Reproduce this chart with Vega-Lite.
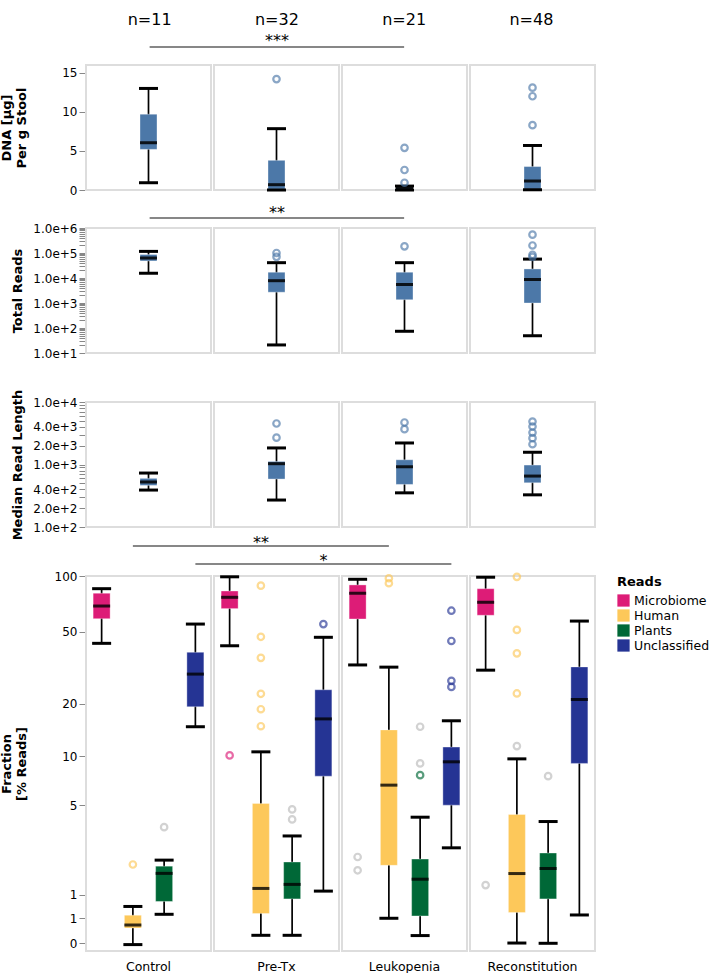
{
  "$schema": "https://vega.github.io/schema/vega-lite/v6.json",
  "padding": {"left": 0, "top": 8, "right": 0, "bottom": 0},
  "bounds": "flush",
  "spacing": 0,
  "config": {
    "font": "DejaVu Sans",
    "view": {"stroke": null},
    "axis": {"domainColor": "#888", "tickColor": "#888", "labelColor": "black", "labelFontSize": 12, "titleFontSize": 13, "titleFontWeight": "bold", "titleColor": "black", "grid": false},
    "legend": {"titleFontSize": 13, "labelFontSize": 12.5, "titleColor": "black", "labelColor": "black"}
  },
  "resolve": {"scale": {"color": "independent"}, "legend": {"color": "independent"}},
  "datasets": {
    "groups": [
      {"group": "Control", "label": "n=11"},
      {"group": "Pre-Tx", "label": "n=32"},
      {"group": "Leukopenia", "label": "n=21"},
      {"group": "Reconstitution", "label": "n=48"}
    ],
    "bracket_top": [
      {"id": "a", "group": "Control", "level": 1},
      {"id": "a", "group": "Leukopenia", "level": 1}
    ],
    "stars1": [{"group": "Pre-Tx", "level": 1, "label": "***"}],
    "stars2": [{"group": "Pre-Tx", "level": 1, "label": "**"}],
    "bracket_bottom": [
      {"id": "c", "group": "Control", "reads": "Human", "level": 2},
      {"id": "c", "group": "Leukopenia", "reads": "Human", "level": 2},
      {"id": "d", "group": "Control", "reads": "Unclassified", "level": 1},
      {"id": "d", "group": "Leukopenia", "reads": "Unclassified", "level": 1}
    ],
    "stars_bottom": [
      {"group": "Pre-Tx", "reads": "Human", "level": 2, "label": "**"},
      {"group": "Pre-Tx", "reads": "Unclassified", "level": 1, "label": "*"}
    ],
    "dna": [
      {"group": "Control", "lower": 0.93, "q1": 5.2, "median": 6.05, "q3": 9.7, "upper": 13.0},
      {"group": "Pre-Tx", "lower": 0.0, "q1": 0.1, "median": 0.68, "q3": 3.8, "upper": 7.85},
      {"group": "Leukopenia", "lower": 0.0, "q1": 0.05, "median": 0.2, "q3": 0.35, "upper": 0.5},
      {"group": "Reconstitution", "lower": 0.03, "q1": 0.1, "median": 1.15, "q3": 3.0, "upper": 5.7}
    ],
    "dna_out": [
      {"group": "Pre-Tx", "value": 14.2},
      {"group": "Leukopenia", "value": 5.4},
      {"group": "Leukopenia", "value": 2.56},
      {"group": "Leukopenia", "value": 0.93},
      {"group": "Reconstitution", "value": 13.1},
      {"group": "Reconstitution", "value": 12.0},
      {"group": "Reconstitution", "value": 8.3}
    ],
    "reads": [
      {"group": "Control", "lower": 15500, "q1": 48000, "median": 63000, "q3": 87000, "upper": 116000},
      {"group": "Pre-Tx", "lower": 21, "q1": 2700, "median": 7800, "q3": 17000, "upper": 41000},
      {"group": "Leukopenia", "lower": 74, "q1": 1350, "median": 5500, "q3": 17000, "upper": 41000},
      {"group": "Reconstitution", "lower": 49, "q1": 1000, "median": 8700, "q3": 23000, "upper": 57000}
    ],
    "reads_out": [
      {"group": "Pre-Tx", "value": 100000},
      {"group": "Pre-Tx", "value": 70000},
      {"group": "Leukopenia", "value": 185000},
      {"group": "Reconstitution", "value": 540000},
      {"group": "Reconstitution", "value": 200000},
      {"group": "Reconstitution", "value": 85000},
      {"group": "Reconstitution", "value": 70000}
    ],
    "readlen": [
      {"group": "Control", "lower": 390, "q1": 463, "median": 525, "q3": 600, "upper": 730},
      {"group": "Pre-Tx", "lower": 270, "q1": 585, "median": 1030, "q3": 1120, "upper": 1840},
      {"group": "Leukopenia", "lower": 352, "q1": 480, "median": 920, "q3": 1190, "upper": 2210},
      {"group": "Reconstitution", "lower": 327, "q1": 510, "median": 653, "q3": 980, "upper": 1570}
    ],
    "readlen_out": [
      {"group": "Pre-Tx", "value": 4530},
      {"group": "Pre-Tx", "value": 2690},
      {"group": "Leukopenia", "value": 4700},
      {"group": "Leukopenia", "value": 3680},
      {"group": "Reconstitution", "value": 4870},
      {"group": "Reconstitution", "value": 4050},
      {"group": "Reconstitution", "value": 3240},
      {"group": "Reconstitution", "value": 2640},
      {"group": "Reconstitution", "value": 2110}
    ],
    "fraction": [
      {"group": "Control", "reads": "Microbiome", "lower": 43.1, "q1": 58.7, "median": 68.8, "q3": 80.7, "upper": 85.4},
      {"group": "Control", "reads": "Human", "lower": 0.082, "q1": 0.327, "median": 0.377, "q3": 0.553, "upper": 0.73},
      {"group": "Control", "reads": "Plants", "lower": 0.571, "q1": 0.84, "median": 1.6, "q3": 1.84, "upper": 2.06},
      {"group": "Control", "reads": "Unclassified", "lower": 14.8, "q1": 19.2, "median": 29.2, "q3": 38.5, "upper": 54.9},
      {"group": "Pre-Tx", "reads": "Microbiome", "lower": 41.8, "q1": 66.6, "median": 76.7, "q3": 83.0, "upper": 99.0},
      {"group": "Pre-Tx", "reads": "Human", "lower": 0.213, "q1": 0.585, "median": 1.16, "q3": 5.15, "upper": 10.6},
      {"group": "Pre-Tx", "reads": "Plants", "lower": 0.213, "q1": 0.898, "median": 1.27, "q3": 1.99, "upper": 3.12},
      {"group": "Pre-Tx", "reads": "Unclassified", "lower": 1.09, "q1": 7.6, "median": 16.4, "q3": 23.9, "upper": 46.5},
      {"group": "Leukopenia", "reads": "Microbiome", "lower": 32.8, "q1": 58.5, "median": 80.7, "q3": 89.5, "upper": 96.0},
      {"group": "Leukopenia", "reads": "Human", "lower": 0.496, "q1": 1.87, "median": 6.7, "q3": 14.2, "upper": 31.9},
      {"group": "Leukopenia", "reads": "Plants", "lower": 0.209, "q1": 0.539, "median": 1.42, "q3": 2.1, "upper": 4.19},
      {"group": "Leukopenia", "reads": "Unclassified", "lower": 2.56, "q1": 5.02, "median": 9.26, "q3": 11.3, "upper": 16.0},
      {"group": "Reconstitution", "reads": "Microbiome", "lower": 30.7, "q1": 61.3, "median": 72.1, "q3": 85.4, "upper": 98.5},
      {"group": "Reconstitution", "reads": "Human", "lower": 0.103, "q1": 0.605, "median": 1.594, "q3": 4.37, "upper": 9.64},
      {"group": "Reconstitution", "reads": "Plants", "lower": 0.0995, "q1": 0.898, "median": 1.76, "q3": 2.34, "upper": 3.92},
      {"group": "Reconstitution", "reads": "Unclassified", "lower": 0.558, "q1": 9.06, "median": 21.1, "q3": 32.0, "upper": 57.0}
    ],
    "fraction_out": [
      {"group": "Control", "reads": "Human", "value": 1.9, "subset": "A"},
      {"group": "Control", "reads": "Plants", "value": 3.59, "subset": "B"},
      {"group": "Pre-Tx", "reads": "Microbiome", "value": 10.1, "subset": "A"},
      {"group": "Pre-Tx", "reads": "Human", "value": 88.7, "subset": "A"},
      {"group": "Pre-Tx", "reads": "Human", "value": 46.8, "subset": "A"},
      {"group": "Pre-Tx", "reads": "Human", "value": 35.9, "subset": "A"},
      {"group": "Pre-Tx", "reads": "Human", "value": 22.7, "subset": "A"},
      {"group": "Pre-Tx", "reads": "Human", "value": 18.6, "subset": "A"},
      {"group": "Pre-Tx", "reads": "Human", "value": 14.9, "subset": "A"},
      {"group": "Pre-Tx", "reads": "Plants", "value": 4.71, "subset": "B"},
      {"group": "Pre-Tx", "reads": "Plants", "value": 4.05, "subset": "B"},
      {"group": "Pre-Tx", "reads": "Unclassified", "value": 54.9, "subset": "A"},
      {"group": "Leukopenia", "reads": "Microbiome", "value": 2.18, "subset": "B"},
      {"group": "Leukopenia", "reads": "Microbiome", "value": 1.7, "subset": "B"},
      {"group": "Leukopenia", "reads": "Human", "value": 97.2, "subset": "A"},
      {"group": "Leukopenia", "reads": "Human", "value": 91.4, "subset": "A"},
      {"group": "Leukopenia", "reads": "Plants", "value": 14.8, "subset": "B"},
      {"group": "Leukopenia", "reads": "Plants", "value": 9.06, "subset": "B"},
      {"group": "Leukopenia", "reads": "Plants", "value": 7.71, "subset": "A"},
      {"group": "Leukopenia", "reads": "Unclassified", "value": 64.9, "subset": "A"},
      {"group": "Leukopenia", "reads": "Unclassified", "value": 44.4, "subset": "A"},
      {"group": "Leukopenia", "reads": "Unclassified", "value": 26.8, "subset": "A"},
      {"group": "Leukopenia", "reads": "Unclassified", "value": 24.8, "subset": "A"},
      {"group": "Reconstitution", "reads": "Microbiome", "value": 1.25, "subset": "B"},
      {"group": "Reconstitution", "reads": "Human", "value": 99.0, "subset": "A"},
      {"group": "Reconstitution", "reads": "Human", "value": 51.0, "subset": "A"},
      {"group": "Reconstitution", "reads": "Human", "value": 38.0, "subset": "A"},
      {"group": "Reconstitution", "reads": "Human", "value": 22.8, "subset": "A"},
      {"group": "Reconstitution", "reads": "Human", "value": 11.45, "subset": "B"},
      {"group": "Reconstitution", "reads": "Plants", "value": 7.6, "subset": "B"}
    ]
  },
  "vconcat": [
    {
      "width": 509, "height": 24,
      "data": {"name": "groups"},
      "mark": {"type": "text", "fontSize": 16, "color": "black"},
      "encoding": {
        "x": {"field": "group", "type": "nominal", "scale": {"domain": ["Control", "Pre-Tx", "Leukopenia", "Reconstitution"], "paddingInner": 0.0234375, "paddingOuter": 0}, "axis": null},
        "text": {"field": "label"}
      }
    },
    {
      "width": 509, "height": 33,
      "encoding": {
        "x": {"field": "group", "type": "nominal", "scale": {"domain": ["Control", "Pre-Tx", "Leukopenia", "Reconstitution"], "paddingInner": 0.0234375, "paddingOuter": 0}, "axis": null},
        "y": {"field": "level", "type": "ordinal", "scale": {"type": "point", "padding": 0, "align": 0.4545}, "axis": null}
      },
      "layer": [
        {"data": {"name": "bracket_top"}, "mark": {"type": "line", "color": "#111", "strokeWidth": 1.1}, "encoding": {"detail": {"field": "id"}}},
        {"data": {"name": "stars1"}, "mark": {"type": "text", "fontSize": 16, "baseline": "alphabetic", "dy": -1, "color": "black"}, "encoding": {"text": {"field": "label"}}}
      ]
    },
    {
      "width": 509, "height": 125,
      "encoding": {
        "x": {"field": "group", "type": "nominal", "scale": {"domain": ["Control", "Pre-Tx", "Leukopenia", "Reconstitution"], "paddingInner": 0.0234375, "paddingOuter": 0}, "axis": null}
      },
      "layer": [
        {"data": {"name": "groups"}, "mark": {"type": "rect", "fill": "white", "stroke": "#ddd", "strokeWidth": 2}},
        {"data": {"name": "dna"}, "mark": {"type": "rule", "color": "black", "strokeWidth": 1.7},
         "encoding": {"y": {"field": "lower", "type": "quantitative", "scale": {"domain": [0, 16], "nice": false, "zero": false},
           "axis": {"title": ["DNA [µg]", "Per g Stool"], "values": [0, 5, 10, 15], "tickSize": 7, "labelPadding": 2, "titleX": -73, "titleAngle": 270, "titleBaseline": "bottom", "titleAlign": "center"}},
          "y2": {"field": "upper"}}},
        {"data": {"name": "dna"}, "mark": {"type": "bar", "size": 17, "color": "#4c78a8", "opacity": 1, "stroke": "white", "strokeOpacity": 0.35, "strokeWidth": 1},
         "encoding": {"y": {"field": "q1", "type": "quantitative", "scale": {"domain": [0, 16], "nice": false, "zero": false}}, "y2": {"field": "q3"}}},
        {"data": {"name": "dna"}, "mark": {"type": "tick", "color": "black", "size": 17, "thickness": 3, "opacity": 0.85},
         "encoding": {"y": {"field": "median", "type": "quantitative", "scale": {"domain": [0, 16], "nice": false, "zero": false}}}},
        {"data": {"name": "dna"}, "mark": {"type": "tick", "color": "black", "size": 19, "thickness": 3, "opacity": 1},
         "encoding": {"y": {"field": "lower", "type": "quantitative", "scale": {"domain": [0, 16], "nice": false, "zero": false}}}},
        {"data": {"name": "dna"}, "mark": {"type": "tick", "color": "black", "size": 19, "thickness": 3, "opacity": 1},
         "encoding": {"y": {"field": "upper", "type": "quantitative", "scale": {"domain": [0, 16], "nice": false, "zero": false}}}},
        {"data": {"name": "dna_out"}, "mark": {"type": "point", "shape": "circle", "filled": false, "strokeWidth": 2.2, "size": 42, "opacity": 0.65, "color": "#4c78a8"},
         "encoding": {"y": {"field": "value", "type": "quantitative", "scale": {"domain": [0, 16], "nice": false, "zero": false}}}}
      ]
    },
    {
      "width": 509, "height": 38,
      "encoding": {
        "x": {"field": "group", "type": "nominal", "scale": {"domain": ["Control", "Pre-Tx", "Leukopenia", "Reconstitution"], "paddingInner": 0.0234375, "paddingOuter": 0}, "axis": null},
        "y": {"field": "level", "type": "ordinal", "scale": {"type": "point", "padding": 0, "align": 0.737}, "axis": null}
      },
      "layer": [
        {"data": {"name": "bracket_top"}, "mark": {"type": "line", "color": "#111", "strokeWidth": 1.1}, "encoding": {"detail": {"field": "id"}}},
        {"data": {"name": "stars2"}, "mark": {"type": "text", "fontSize": 16, "baseline": "alphabetic", "dy": 0, "color": "black"}, "encoding": {"text": {"field": "label"}}}
      ]
    },
    {
      "width": 509, "height": 125,
      "encoding": {
        "x": {"field": "group", "type": "nominal", "scale": {"domain": ["Control", "Pre-Tx", "Leukopenia", "Reconstitution"], "paddingInner": 0.0234375, "paddingOuter": 0}, "axis": null}
      },
      "layer": [
        {"data": {"name": "groups"}, "mark": {"type": "rect", "fill": "white", "stroke": "#ddd", "strokeWidth": 2}},
        {"data": {"name": "reads"}, "mark": {"type": "rule", "color": "black", "strokeWidth": 1.7},
         "encoding": {"y": {"field": "lower", "type": "quantitative", "scale": {"type": "log", "domain": [10, 1000000], "nice": false},
           "axis": {"title": "Total Reads", "values": [10, 20, 30, 40, 50, 60, 70, 80, 90, 100, 200, 300, 400, 500, 600, 700, 800, 900, 1000, 2000, 3000, 4000, 5000, 6000, 7000, 8000, 9000, 10000, 20000, 30000, 40000, 50000, 60000, 70000, 80000, 90000, 100000, 200000, 300000, 400000, 500000, 600000, 700000, 800000, 900000, 1000000],
             "format": ".1e", "labelExpr": "slice(datum.label, 0, 3) == '1.0' ? datum.label : ''", "labelOverlap": false, "labelBound": false, "tickSize": 7, "labelPadding": 2, "titleX": -62, "titleAngle": 270, "titleBaseline": "bottom", "titleAlign": "center"}},
          "y2": {"field": "upper"}}},
        {"data": {"name": "reads"}, "mark": {"type": "bar", "size": 17, "color": "#4c78a8", "opacity": 1, "stroke": "white", "strokeOpacity": 0.35, "strokeWidth": 1},
         "encoding": {"y": {"field": "q1", "type": "quantitative", "scale": {"type": "log", "domain": [10, 1000000], "nice": false}}, "y2": {"field": "q3"}}},
        {"data": {"name": "reads"}, "mark": {"type": "tick", "color": "black", "size": 17, "thickness": 3, "opacity": 0.85},
         "encoding": {"y": {"field": "median", "type": "quantitative", "scale": {"type": "log", "domain": [10, 1000000], "nice": false}}}},
        {"data": {"name": "reads"}, "mark": {"type": "tick", "color": "black", "size": 19, "thickness": 3, "opacity": 1},
         "encoding": {"y": {"field": "lower", "type": "quantitative", "scale": {"type": "log", "domain": [10, 1000000], "nice": false}}}},
        {"data": {"name": "reads"}, "mark": {"type": "tick", "color": "black", "size": 19, "thickness": 3, "opacity": 1},
         "encoding": {"y": {"field": "upper", "type": "quantitative", "scale": {"type": "log", "domain": [10, 1000000], "nice": false}}}},
        {"data": {"name": "reads_out"}, "mark": {"type": "point", "shape": "circle", "filled": false, "strokeWidth": 2.2, "size": 42, "opacity": 0.65, "color": "#4c78a8"},
         "encoding": {"y": {"field": "value", "type": "quantitative", "scale": {"type": "log", "domain": [10, 1000000], "nice": false}}}}
      ]
    },
    {
      "width": 509, "height": 49,
      "data": {"values": []},
      "mark": "point",
      "encoding": {}
    },
    {
      "width": 509, "height": 125,
      "encoding": {
        "x": {"field": "group", "type": "nominal", "scale": {"domain": ["Control", "Pre-Tx", "Leukopenia", "Reconstitution"], "paddingInner": 0.0234375, "paddingOuter": 0}, "axis": null}
      },
      "layer": [
        {"data": {"name": "groups"}, "mark": {"type": "rect", "fill": "white", "stroke": "#ddd", "strokeWidth": 2}},
        {"data": {"name": "readlen"}, "mark": {"type": "rule", "color": "black", "strokeWidth": 1.7},
         "encoding": {"y": {"field": "lower", "type": "quantitative", "scale": {"type": "log", "domain": [100, 10000], "nice": false},
           "axis": {"title": "Median Read Length", "values": [100, 200, 300, 400, 500, 600, 700, 800, 900, 1000, 2000, 3000, 4000, 5000, 6000, 7000, 8000, 9000, 10000],
             "format": ".1e", "labelExpr": "indexof(['1.0', '2.0', '4.0'], slice(datum.label, 0, 3)) >= 0 ? datum.label : ''", "labelOverlap": false, "labelBound": false, "tickSize": 7, "labelPadding": 2, "titleX": -62, "titleAngle": 270, "titleBaseline": "bottom", "titleAlign": "center"}},
          "y2": {"field": "upper"}}},
        {"data": {"name": "readlen"}, "mark": {"type": "bar", "size": 17, "color": "#4c78a8", "opacity": 1, "stroke": "white", "strokeOpacity": 0.35, "strokeWidth": 1},
         "encoding": {"y": {"field": "q1", "type": "quantitative", "scale": {"type": "log", "domain": [100, 10000], "nice": false}}, "y2": {"field": "q3"}}},
        {"data": {"name": "readlen"}, "mark": {"type": "tick", "color": "black", "size": 17, "thickness": 3, "opacity": 0.85},
         "encoding": {"y": {"field": "median", "type": "quantitative", "scale": {"type": "log", "domain": [100, 10000], "nice": false}}}},
        {"data": {"name": "readlen"}, "mark": {"type": "tick", "color": "black", "size": 19, "thickness": 3, "opacity": 1},
         "encoding": {"y": {"field": "lower", "type": "quantitative", "scale": {"type": "log", "domain": [100, 10000], "nice": false}}}},
        {"data": {"name": "readlen"}, "mark": {"type": "tick", "color": "black", "size": 19, "thickness": 3, "opacity": 1},
         "encoding": {"y": {"field": "upper", "type": "quantitative", "scale": {"type": "log", "domain": [100, 10000], "nice": false}}}},
        {"data": {"name": "readlen_out"}, "mark": {"type": "point", "shape": "circle", "filled": false, "strokeWidth": 2.2, "size": 42, "opacity": 0.65, "color": "#4c78a8"},
         "encoding": {"y": {"field": "value", "type": "quantitative", "scale": {"type": "log", "domain": [100, 10000], "nice": false}}}}
      ]
    },
    {
      "width": 509, "height": 49,
      "encoding": {
        "x": {"field": "group", "type": "nominal", "scale": {"domain": ["Control", "Pre-Tx", "Leukopenia", "Reconstitution"], "paddingInner": 0.0234375, "paddingOuter": 0}, "axis": null},
        "xOffset": {"field": "reads", "type": "nominal", "scale": {"domain": ["Microbiome", "Human", "Plants", "Unclassified"], "paddingInner": 0, "paddingOuter": 0}},
        "y": {"field": "level", "type": "ordinal", "scale": {"type": "point", "domain": [2, 1], "padding": 0.861, "align": 0.613}, "axis": null}
      },
      "layer": [
        {"data": {"name": "bracket_bottom"}, "mark": {"type": "line", "color": "#111", "strokeWidth": 1.1}, "encoding": {"detail": {"field": "id"}}},
        {"data": {"name": "stars_bottom"}, "mark": {"type": "text", "fontSize": 16, "baseline": "alphabetic", "dy": 2, "color": "black"}, "encoding": {"text": {"field": "label"}}}
      ]
    },
    {
      "width": 509, "height": 375,
      "encoding": {
        "x": {"field": "group", "type": "nominal", "scale": {"domain": ["Control", "Pre-Tx", "Leukopenia", "Reconstitution"], "paddingInner": 0.0234375, "paddingOuter": 0},
          "axis": {"title": null, "ticks": false, "domain": false, "labelPadding": 9, "labelFontSize": 12.5, "labelAngle": 0}}
      },
      "layer": [
        {"data": {"name": "groups"}, "mark": {"type": "rect", "fill": "white", "stroke": "#ddd", "strokeWidth": 2}},
        {"data": {"name": "fraction"}, "mark": {"type": "rule", "color": "black", "strokeWidth": 1.7},
         "encoding": {
          "xOffset": {"field": "reads", "type": "nominal", "scale": {"domain": ["Microbiome", "Human", "Plants", "Unclassified"], "paddingInner": 0, "paddingOuter": 0}},
          "y": {"field": "lower", "type": "quantitative", "scale": {"type": "symlog", "constant": 1, "domain": [0, 100], "nice": false},
           "axis": {"title": ["Fraction", "[% Reads]"], "values": [0.1, 0.5, 1, 5, 10, 20, 50, 100], "format": "d", "labelOverlap": false, "labelBound": false, "tickSize": 7, "labelPadding": 2, "titleX": -73, "titleAngle": 270, "titleBaseline": "bottom", "titleAlign": "center"}},
          "y2": {"field": "upper"}}},
        {"data": {"name": "fraction"}, "mark": {"type": "bar", "size": 17, "opacity": 1, "stroke": "white", "strokeOpacity": 0.35, "strokeWidth": 1},
         "encoding": {
          "xOffset": {"field": "reads", "type": "nominal", "scale": {"domain": ["Microbiome", "Human", "Plants", "Unclassified"], "paddingInner": 0, "paddingOuter": 0}},
          "y": {"field": "q1", "type": "quantitative", "scale": {"type": "symlog", "constant": 1, "domain": [0, 100], "nice": false}},
          "y2": {"field": "q3"},
          "color": {"field": "reads", "type": "nominal", "scale": {"domain": ["Microbiome", "Human", "Plants", "Unclassified"], "range": ["#dd1c77", "#fdc85a", "#006837", "#253494"]},
            "legend": {"title": "Reads", "symbolType": "square", "symbolSize": 150, "symbolStrokeWidth": 0, "offset": 22, "padding": 0, "rowPadding": 2}}}},
        {"data": {"name": "fraction"}, "mark": {"type": "tick", "color": "black", "size": 17, "thickness": 3, "opacity": 0.8},
         "encoding": {
          "xOffset": {"field": "reads", "type": "nominal", "scale": {"domain": ["Microbiome", "Human", "Plants", "Unclassified"], "paddingInner": 0, "paddingOuter": 0}},
          "y": {"field": "median", "type": "quantitative", "scale": {"type": "symlog", "constant": 1, "domain": [0, 100], "nice": false}}}},
        {"data": {"name": "fraction"}, "mark": {"type": "tick", "color": "black", "size": 19, "thickness": 3, "opacity": 1},
         "encoding": {
          "xOffset": {"field": "reads", "type": "nominal", "scale": {"domain": ["Microbiome", "Human", "Plants", "Unclassified"], "paddingInner": 0, "paddingOuter": 0}},
          "y": {"field": "lower", "type": "quantitative", "scale": {"type": "symlog", "constant": 1, "domain": [0, 100], "nice": false}}}},
        {"data": {"name": "fraction"}, "mark": {"type": "tick", "color": "black", "size": 19, "thickness": 3, "opacity": 1},
         "encoding": {
          "xOffset": {"field": "reads", "type": "nominal", "scale": {"domain": ["Microbiome", "Human", "Plants", "Unclassified"], "paddingInner": 0, "paddingOuter": 0}},
          "y": {"field": "upper", "type": "quantitative", "scale": {"type": "symlog", "constant": 1, "domain": [0, 100], "nice": false}}}},
        {"data": {"name": "fraction_out"}, "mark": {"type": "point", "shape": "circle", "filled": false, "strokeWidth": 2.2, "size": 42, "opacity": 0.65},
         "encoding": {
          "xOffset": {"field": "reads", "type": "nominal", "scale": {"domain": ["Microbiome", "Human", "Plants", "Unclassified"], "paddingInner": 0, "paddingOuter": 0}},
          "y": {"field": "value", "type": "quantitative", "scale": {"type": "symlog", "constant": 1, "domain": [0, 100], "nice": false}},
          "color": {"condition": {"test": "datum.subset === 'B'", "value": "#bbbbbb"}, "field": "reads", "type": "nominal", "scale": {"domain": ["Microbiome", "Human", "Plants", "Unclassified"], "range": ["#dd1c77", "#fdc85a", "#006837", "#253494"]}, "legend": null}}}
      ]
    }
  ]
}
